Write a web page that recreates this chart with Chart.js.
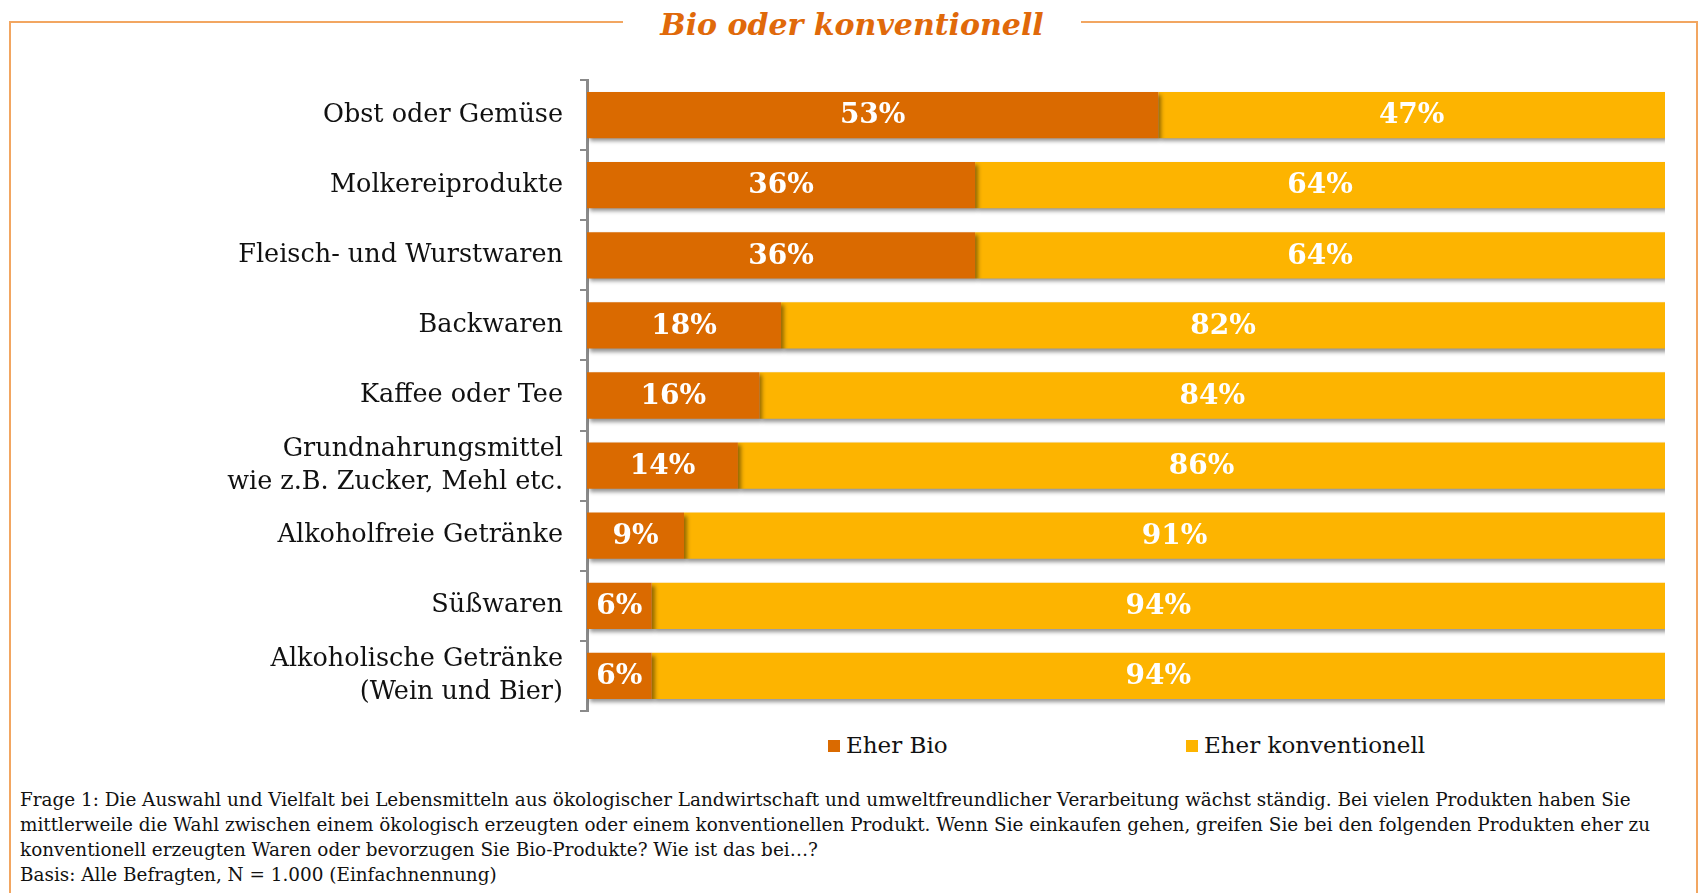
<!DOCTYPE html>
<html>
<head>
<meta charset="utf-8">
<script src="https://cdn.jsdelivr.net/npm/chart.js@4.4.1/dist/chart.umd.min.js"></script>
<style>
  html, body { margin: 0; padding: 0; background: #fff; }
  body { width: 1699px; height: 893px; position: relative; overflow: hidden; font-family: 'DejaVu Serif', serif; }
  .frameline { position: absolute; background: #F2A661; }
  #title { position: absolute; left: 603px; width: 498px; top: 5px; text-align: center; color: #E0690A;
           font: italic bold 30px 'DejaVu Serif', serif; line-height: 40px; }
  #chartwrap { position: absolute; left: 0; top: 0; width: 1699px; height: 720px; }
  .leg { position: absolute; top: 731px; font-size: 23px; color: #111; line-height: 28px; white-space: nowrap; }
  .leg span.box { display: inline-block; width: 12px; height: 12px; margin-right: 6px; vertical-align: 1px; }
  #note { position: absolute; left: 20px; top: 787px; font-size: 18.4px; line-height: 25px; color: #111; white-space: nowrap; }
</style>
</head>
<body>
<div class="frameline" style="left:9px; top:21px; width:614px; height:2px;"></div>
<div class="frameline" style="left:1081px; top:21px; width:617px; height:2px;"></div>
<div class="frameline" style="left:9px; top:21px; width:2px; height:872px;"></div>
<div class="frameline" style="left:1696px; top:21px; width:2px; height:872px;"></div>
<div id="title">Bio oder konventionell</div>
<div id="chartwrap"><canvas id="c"></canvas></div>
<div class="leg" style="left:828px;"><span class="box" style="background:#DA6A00"></span>Eher Bio</div>
<div class="leg" style="left:1186px;"><span class="box" style="background:#FDB400"></span>Eher konventionell</div>
<div id="note">Frage 1: Die Auswahl und Vielfalt bei Lebensmitteln aus ökologischer Landwirtschaft und umweltfreundlicher Verarbeitung wächst ständig. Bei vielen Produkten haben Sie<br>mittlerweile die Wahl zwischen einem ökologisch erzeugten oder einem konventionellen Produkt. Wenn Sie einkaufen gehen, greifen Sie bei den folgenden Produkten eher zu<br>konventionell erzeugten Waren oder bevorzugen Sie Bio-Produkte? Wie ist das bei…?<br>Basis: Alle Befragten, N = 1.000 (Einfachnennung)</div>
<script>
const categories = [
  'Obst oder Gemüse',
  'Molkereiprodukte',
  'Fleisch- und Wurstwaren',
  'Backwaren',
  'Kaffee oder Tee',
  ['Grundnahrungsmittel', 'wie z.B. Zucker, Mehl etc.'],
  'Alkoholfreie Getränke',
  'Süßwaren',
  ['Alkoholische Getränke', '(Wein und Bier)']
];
const seriesNames = ['Eher Bio', 'Eher konventionell'];
const eherBio = [53, 36, 36, 18, 16, 14, 9, 6, 6];
const eherKonventionell = [47, 64, 64, 82, 84, 86, 91, 94, 94];

const shadowAndLabels = {
  id: 'shadowAndLabels',
  beforeDatasetsDraw(chart) {
    const ctx = chart.ctx;
    ctx.save();
    ctx.shadowColor = 'rgba(0,0,0,0.42)';
    ctx.shadowBlur = 4;
    ctx.shadowOffsetX = 3;
    ctx.shadowOffsetY = 3;
  },
  afterDatasetsDraw(chart) {
    const ctx = chart.ctx;
    ctx.restore();
    ctx.save();
    ctx.fillStyle = '#ffffff';
    ctx.font = 'bold 28px "DejaVu Serif", serif';
    ctx.textAlign = 'center';
    ctx.textBaseline = 'middle';
    chart.data.datasets.forEach((ds, di) => {
      const meta = chart.getDatasetMeta(di);
      meta.data.forEach((bar, i) => {
        const p = bar.getProps(['x', 'y', 'base'], true);
        const cx = (p.x + p.base) / 2;
        ctx.fillText(ds.data[i] + '%', cx, p.y + 1);
      });
    });
    ctx.restore();
  }
};

new Chart(document.getElementById('c'), {
  type: 'bar',
  data: {
    labels: categories,
    datasets: [
      { label: seriesNames[0], data: eherBio, backgroundColor: '#DA6A00', borderWidth: 0,
        categoryPercentage: 1, barPercentage: 0.66 },
      { label: seriesNames[1], data: eherKonventionell, backgroundColor: '#FDB400', borderWidth: 0,
        categoryPercentage: 1, barPercentage: 0.66 }
    ]
  },
  options: {
    indexAxis: 'y',
    responsive: true,
    maintainAspectRatio: false,
    animation: false,
    layout: { padding: { left: 0, right: 34, top: 80, bottom: 9 } },
    plugins: { legend: { display: false }, tooltip: { enabled: false }, title: { display: false } },
    scales: {
      x: { stacked: true, min: 0, max: 100, display: false },
      y: {
        stacked: true,
        afterFit(scale) { scale.width = 587; scale.paddingTop = 0; scale.paddingBottom = 0; },
        grid: { display: true, drawOnChartArea: false, drawTicks: true, tickLength: 7, color: '#8a8a8a', lineWidth: 2, offset: true },
        border: { display: true, color: '#8a8a8a', width: 3 },
        ticks: { color: '#111', padding: 17, font: { family: 'DejaVu Serif', size: 25.5, lineHeight: 1.3 } }
      }
    }
  },
  plugins: [shadowAndLabels]
});
</script>
</body>
</html>
